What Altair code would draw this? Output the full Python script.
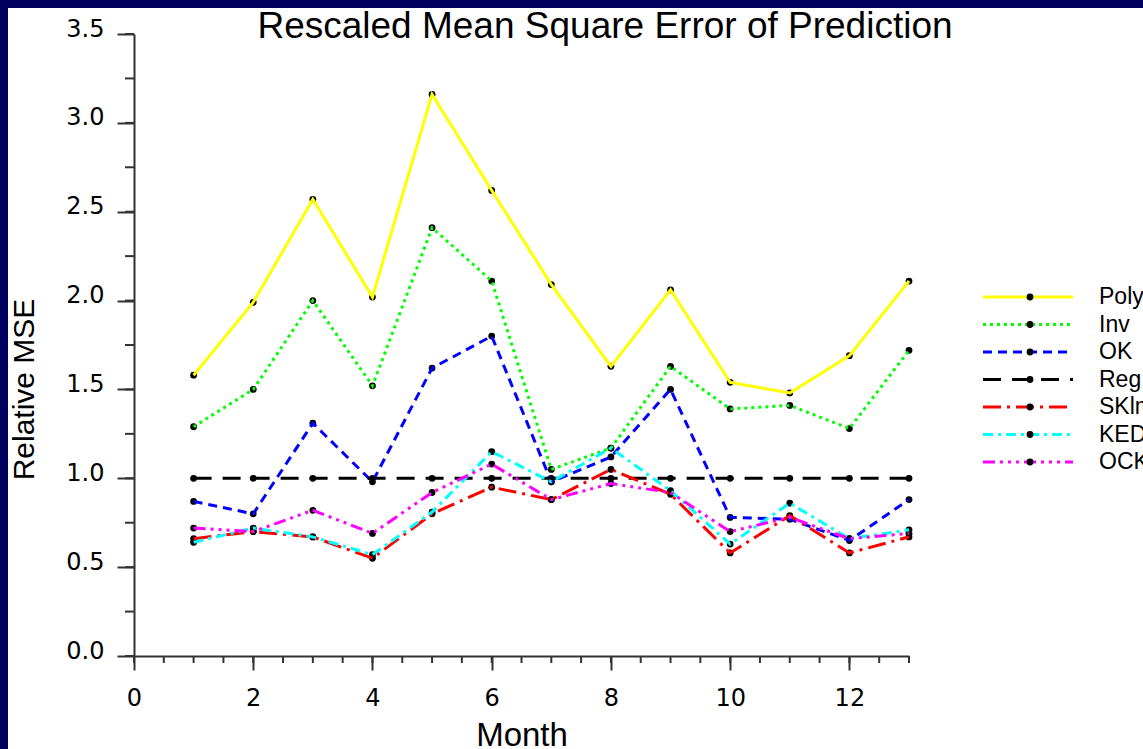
import altair as alt
import pandas as pd

# Monthly relative mean square error of prediction, by interpolation method
months = list(range(1, 14))
series_names = ["Poly", "Inv", "OK", "Reg", "SKlm", "KED", "OCK"]

poly = [1.58, 1.99, 2.57, 2.02, 3.16, 2.62, 2.09, 1.63, 2.06, 1.54, 1.48, 1.69, 2.11]
inv = [1.29, 1.50, 2.00, 1.52, 2.41, 2.11, 1.05, 1.17, 1.63, 1.39, 1.41, 1.28, 1.72]
ok = [0.87, 0.80, 1.31, 0.98, 1.62, 1.80, 0.98, 1.12, 1.50, 0.78, 0.77, 0.65, 0.88]
reg = [1.00, 1.00, 1.00, 1.00, 1.00, 1.00, 1.00, 1.00, 1.00, 1.00, 1.00, 1.00, 1.00]
sklm = [0.66, 0.70, 0.67, 0.55, 0.80, 0.95, 0.88, 1.05, 0.91, 0.58, 0.79, 0.58, 0.67]
ked = [0.64, 0.72, 0.67, 0.57, 0.81, 1.15, 0.98, 1.17, 0.93, 0.63, 0.86, 0.66, 0.71]
ock = [0.72, 0.70, 0.82, 0.69, 0.92, 1.08, 0.88, 0.97, 0.92, 0.70, 0.78, 0.66, 0.69]

title_lines = ["Rescaled Mean Square Error of Prediction"]

y_major = [0.0, 0.5, 1.0, 1.5, 2.0, 2.5, 3.0, 3.5]
y_minor = [i * 0.25 for i in range(15)]
x_major = [0, 2, 4, 6, 8, 10, 12]
x_minor = [i * 0.5 for i in range(27)]

series_colors = ["#ffff00", "#00ff00", "#0000ff", "#000000", "#ff0000", "#00ffff", "#ff00ff"]
series_dashes = [[1, 0], [3, 4], [9, 6], [18, 11], [18, 6, 3, 6], [10, 5, 3, 5],
                 [12, 5, 3, 5, 3, 5, 3, 5]]
series_widths = [3, 3, 3, 2.5, 3, 3, 3]

rows = []
for name, values in zip(series_names, [poly, inv, ok, reg, sklm, ked, ock]):
    for m, v in zip(months, values):
        rows.append({"series": name, "month": m, "mse": v})
df = pd.DataFrame(rows)
legend_df = pd.DataFrame({"series": series_names})
title_df = pd.DataFrame({"text": title_lines})
frame_df = pd.DataFrame({"panel": [0]})
x_minor_df = pd.DataFrame({"month": x_minor})
y_minor_df = pd.DataFrame({"mse": y_minor})

FONT = "Liberation Sans"
TICK_FONT = "DejaVu Sans"
AXIS_COLOR = "#333333"
NAVY = "#00005f"

x_scale = alt.Scale(domain=[0, 13], nice=False, zero=False)
y_scale = alt.Scale(domain=[0, 3.5], nice=False)
color_scale = alt.Scale(domain=series_names, range=series_colors)
dash_scale = alt.Scale(domain=series_names, range=series_dashes)
width_scale = alt.Scale(domain=series_names, range=series_widths)
row_scale = alt.Scale(type="point", domain=series_names, range=[0, 165], padding=0)

x_axis = alt.Axis(
    values=x_major, format="d", tickSize=14, tickWidth=2,
    tickColor=AXIS_COLOR, domainColor=AXIS_COLOR, domainWidth=2,
    labelFont=TICK_FONT, labelFontSize=24, labelColor="black", labelPadding=16,
    labelFlush=False, labelOverlap=False,
    title="Month", titleFont=FONT, titleFontSize=33,
    titleFontWeight="normal", titleColor="black", titleBaseline="alphabetic",
    titleY=89, grid=False,
)
y_axis = alt.Axis(
    values=y_major, format=".1f", tickSize=17, tickWidth=2,
    tickColor=AXIS_COLOR, domainColor=AXIS_COLOR, domainWidth=2,
    labelFont=TICK_FONT, labelFontSize=24, labelColor="black", labelPadding=13,
    labelBaseline="alphabetic", labelOffset=2, labelFlush=False, labelOverlap=False,
    title="Relative MSE", titleFont=FONT, titleFontSize=30,
    titleFontWeight="normal", titleColor="black", titleAngle=270,
    titleBaseline="alphabetic", titleAlign="center", titleX=-101, titleY=355,
    grid=False,
)

X = alt.X("month:Q", scale=x_scale, axis=x_axis)
Y = alt.Y("mse:Q", scale=y_scale, axis=y_axis)

# navy frame strips along the top and left edges of the page
frame_top = alt.Chart(frame_df).mark_rect(color=NAVY).encode(
    x=alt.value(-134), x2=alt.value(1009), y=alt.value(-34), y2=alt.value(-26)
)
frame_left = alt.Chart(frame_df).mark_rect(color=NAVY).encode(
    x=alt.value(-134), x2=alt.value(-126), y=alt.value(-34), y2=alt.value(715)
)

title_text = alt.Chart(title_df).mark_text(
    align="center", baseline="alphabetic", font=FONT, fontSize=37, color="black"
).encode(x=alt.value(471), y=alt.value(4), text="text:N")

markers = alt.Chart(df).mark_circle(size=46, color="black", opacity=1).encode(x=X, y=Y)

lines = alt.Chart(df).mark_line().encode(
    x=X,
    y=Y,
    color=alt.Color("series:N", scale=color_scale, legend=None),
    strokeDash=alt.StrokeDash("series:N", scale=dash_scale, legend=None),
    strokeWidth=alt.StrokeWidth("series:N", scale=width_scale, legend=None),
)

# minor tick marks on both axes
x_minor_ticks = alt.Chart(x_minor_df).mark_rule(color=AXIS_COLOR, strokeWidth=2).encode(
    x=X, y=alt.value(622), y2=alt.value(629),
)
y_minor_ticks = alt.Chart(y_minor_df).mark_rule(color=AXIS_COLOR, strokeWidth=2).encode(
    y=Y, x=alt.value(-9), x2=alt.value(0),
)

# legend block at the right: sample line, marker and name per method
legend_offset = alt.YOffset("series:N", scale=row_scale)
legend_lines = alt.Chart(legend_df).mark_rule().encode(
    x=alt.value(849), x2=alt.value(939), y=alt.value(263), yOffset=legend_offset,
    color=alt.Color("series:N", scale=color_scale, legend=None),
    strokeDash=alt.StrokeDash("series:N", scale=dash_scale, legend=None),
    strokeWidth=alt.StrokeWidth("series:N", scale=width_scale, legend=None),
)
legend_marks = alt.Chart(legend_df).mark_circle(size=46, color="black", opacity=1).encode(
    x=alt.value(896), y=alt.value(263), yOffset=legend_offset,
)
legend_text = alt.Chart(legend_df).mark_text(
    align="left", baseline="middle", font=FONT, fontSize=23, color="black"
).encode(x=alt.value(965), y=alt.value(263), yOffset=legend_offset, text="series:N")

chart = alt.layer(
    frame_top, frame_left, title_text, x_minor_ticks, y_minor_ticks, markers, lines,
    legend_lines, legend_marks, legend_text,
).properties(
    width=775,
    height=622,
    autosize=alt.AutoSizeParams(type="none"),
    padding={"left": 134, "top": 34, "right": 234, "bottom": 93},
    background="white",
).configure_view(stroke=None)

chart.save("out.html", embed_options={"renderer": "svg", "actions": False})
